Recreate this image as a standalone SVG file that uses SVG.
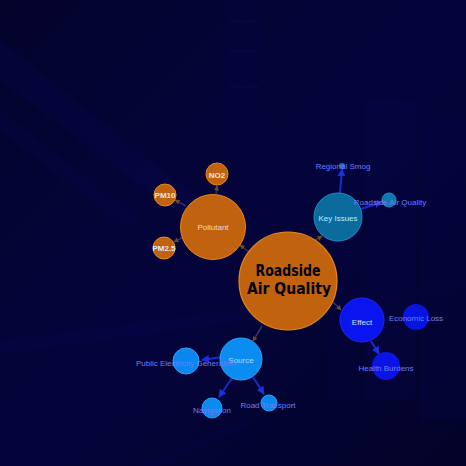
<svg xmlns="http://www.w3.org/2000/svg" width="466" height="466" viewBox="0 0 466 466">
<defs>
<linearGradient id="bg" x1="0" y1="0" x2="1" y2="1">
<stop offset="0" stop-color="#03032c"/>
<stop offset="0.5" stop-color="#04043c"/>
<stop offset="1" stop-color="#020228"/>
</linearGradient>
<marker id="ad" viewBox="0 0 10 10" refX="9" refY="5" markerWidth="5" markerHeight="5" orient="auto-start-reverse" markerUnits="userSpaceOnUse">
<path d="M0,0 L10,5 L0,10 z" fill="#6a5020"/>
</marker>
<marker id="ab" viewBox="0 0 10 10" refX="9" refY="5" markerWidth="8" markerHeight="8" orient="auto" markerUnits="userSpaceOnUse">
<path d="M0,0 L10,5 L0,10 z" fill="#1a30e0"/>
</marker>
<style>
.lbl{font-family:"Liberation Sans",Arial,sans-serif;font-size:8px;fill:#6c7cff;text-anchor:middle}
.in{font-family:"Liberation Sans",Arial,sans-serif;font-size:8px;text-anchor:middle}
.dim{stroke:#3a3060;stroke-width:1.5;fill:none}
.blu{stroke:#1a2ad0;stroke-width:2;fill:none}
.or{fill:#c0620e;stroke:#e8891a;stroke-width:1}
.ttl{font-family:"DejaVu Sans",sans-serif;font-weight:bold;font-size:15.5px;fill:#000;text-anchor:middle}
</style>
</defs>
<rect width="466" height="466" fill="url(#bg)"/>
<g opacity="0.35">
<path d="M0,40 L200,200 L200,230 L0,80 z" fill="#08084e"/>
<path d="M0,110 L140,220 L120,225 L0,130 z" fill="#07074a"/>
<rect x="222" y="0" width="40" height="160" fill="#050540"/>
<rect x="230" y="20" width="28" height="3" fill="#0a0a55"/>
<rect x="230" y="50" width="28" height="3" fill="#0a0a55"/>
<rect x="230" y="85" width="28" height="3" fill="#0a0a55"/>
<rect x="365" y="100" width="50" height="300" fill="#06064a"/>
<rect x="330" y="150" width="30" height="250" fill="#05053f"/>
<rect x="420" y="120" width="46" height="300" fill="#050545"/>
<path d="M0,340 L466,280 L466,290 L0,355 z" fill="#06064a"/>
<path d="M0,430 L200,390 L210,395 L0,445 z" fill="#05053f"/>
<path d="M140,466 L240,420 L250,425 L160,466 z" fill="#06064a"/>
</g>
<g id="connectors">
<line class="dim" x1="250" y1="253" x2="240" y2="245" marker-end="url(#ad)"/>
<line class="dim" x1="216" y1="194" x2="217" y2="186" marker-end="url(#ad)"/>
<line class="dim" x1="186" y1="206" x2="175" y2="200" marker-end="url(#ad)"/>
<line class="dim" x1="185" y1="236" x2="174" y2="242" marker-end="url(#ad)"/>
<line class="dim" x1="314" y1="241" x2="322" y2="236" marker-end="url(#ad)"/>
<line class="dim" x1="333" y1="302" x2="341" y2="310" marker-end="url(#ad)"/>
<line class="dim" x1="262" y1="326" x2="253" y2="341" marker-end="url(#ad)"/>
<line class="blu" x1="340" y1="193" x2="342" y2="169" marker-end="url(#ab)"/>
<line class="blu" x1="361" y1="209" x2="382" y2="202" marker-end="url(#ab)"/>
<line class="blu" x1="371" y1="341" x2="379" y2="354" marker-end="url(#ab)"/>
<line class="blu" x1="221" y1="357" x2="202" y2="360" marker-end="url(#ab)"/>
<line class="blu" x1="232" y1="378" x2="219" y2="397" marker-end="url(#ab)"/>
<line class="blu" x1="253" y1="377" x2="264" y2="394" marker-end="url(#ab)"/>
</g>
<g id="n-pollutant"><circle class="or" cx="213" cy="227" r="32.5"/><text class="in" x="213" y="230" fill="#f2d8d0">Pollutant</text></g>
<g id="n-no2"><circle class="or" cx="217" cy="174" r="11"/><text class="in" x="217" y="178" fill="#f8e8e4" font-weight="bold">NO2</text></g>
<g id="n-pm10"><circle class="or" cx="165" cy="195" r="11"/><text class="in" x="165" y="198" fill="#f8e8e4" font-weight="bold">PM10</text></g>
<g id="n-pm25"><circle class="or" cx="164" cy="248" r="11"/><text class="in" x="164" y="251" fill="#e8e8ff" font-weight="bold">PM2.5</text></g>
<g id="n-keyissues"><circle cx="338" cy="217" r="24" fill="#0b6b9c" stroke="#1a90c8"/><text class="in" x="338" y="221" fill="#b0f0ff">Key Issues</text></g>
<g id="n-smog"><circle cx="342" cy="166" r="3" fill="#1a6ad0"/><text class="lbl" x="343" y="169">Regional Smog</text></g>
<g id="n-raq"><circle cx="389" cy="200" r="7" fill="#0d78b0" stroke="#1a90c8"/><text class="lbl" x="390" y="205" fill="#70a0ff">Roadside Air Quality</text></g>
<g id="n-effect"><circle cx="362" cy="320" r="22" fill="#0a14ee" stroke="#1a2aff"/><text class="in" x="362" y="325" fill="#d0e0ff">Effect</text></g>
<g id="n-econ"><circle cx="416" cy="317" r="13" fill="#0814e0"/><text class="lbl" x="416" y="321" fill="#8090ff">Economic Loss</text></g>
<g id="n-health"><circle cx="386" cy="366" r="14" fill="#0a14e6"/><text class="lbl" x="386" y="371" fill="#8090ff">Health Burdens</text></g>
<g id="n-source"><circle cx="241" cy="359" r="21" fill="#0a8cf0" stroke="#2aa4ff"/><text class="in" x="241" y="363" fill="#b0d8ff">Source</text></g>
<g id="n-peg"><circle cx="186" cy="361" r="13" fill="#0a86ee" stroke="#2aa0ff"/><text class="lbl" x="186" y="366" fill="#7a90ff">Public Electricity Generation</text></g>
<g id="n-nav"><circle cx="212" cy="408" r="10" fill="#0b8aef" stroke="#2aa0ff"/><text class="lbl" x="212" y="413" fill="#7a90ff">Navigation</text></g>
<g id="n-road"><circle cx="269" cy="403" r="8" fill="#0b88ee" stroke="#2aa0ff"/><text class="lbl" x="268" y="408" fill="#7a90ff">Road Transport</text></g>
<g id="n-center"><circle cx="288" cy="281" r="49" fill="#c0620e" stroke="#e8891a" stroke-width="1.2"/>
<text class="ttl" x="288" y="276" textLength="65" lengthAdjust="spacingAndGlyphs">Roadside</text>
<text class="ttl" x="289" y="294" textLength="84" lengthAdjust="spacingAndGlyphs">Air Quality</text></g>
</svg>
